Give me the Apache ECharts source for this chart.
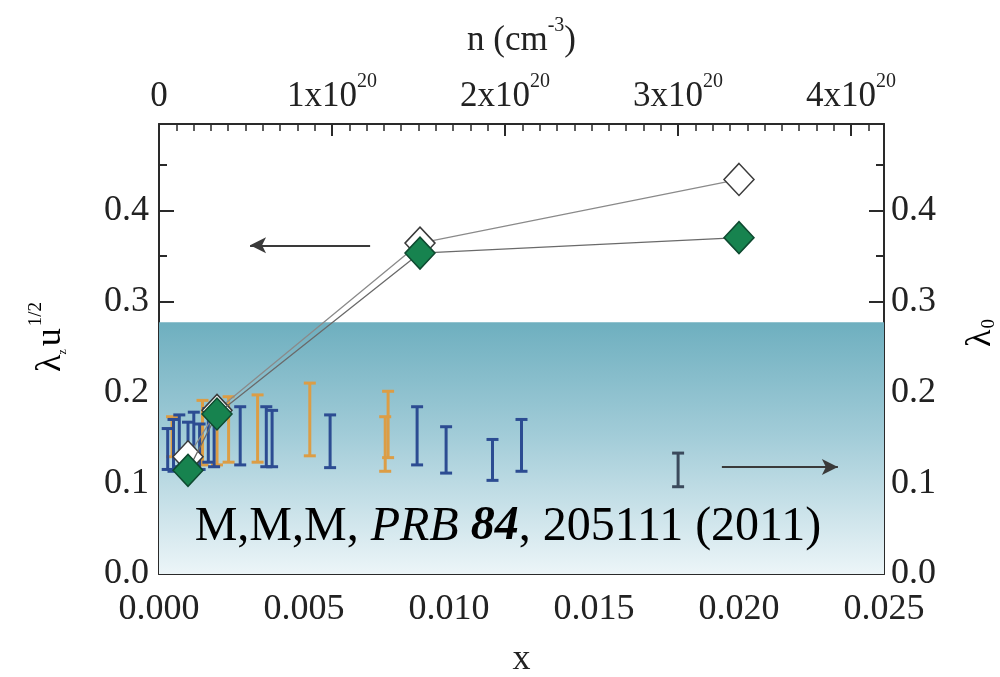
<!DOCTYPE html>
<html><head><meta charset="utf-8">
<script src="https://cdn.jsdelivr.net/npm/echarts@6/dist/echarts.min.js"></script>
<style>html,body{margin:0;padding:0;background:#fff}#c{width:1000px;height:677px}</style>
</head><body><div id="c"></div>
<script>
// ---- data ----
const xTicks = [0, 0.005, 0.010, 0.015, 0.020, 0.025];
const nTicks = [0, 1e20, 2e20, 3e20, 4e20];
// lambda_z u^1/2 (left axis) – diamonds
const diamondX = [0.001, 0.002, 0.009, 0.020];
const filledY = [0.114, 0.176, 0.353, 0.370];
const openY   = [0.129, 0.180, 0.364, 0.434];
// lambda_0 (right axis) – error bars
const blueX    = [0.0003, 0.0005, 0.0007, 0.0010, 0.0012, 0.0014, 0.0017, 0.0019, 0.0028, 0.0037, 0.0039, 0.0059, 0.0089, 0.0099, 0.0115, 0.0125];
const blueLow  = [0.115, 0.113, 0.118, 0.112, 0.120, 0.115, 0.123, 0.118, 0.120, 0.118, 0.118, 0.117, 0.120, 0.111, 0.103, 0.113];
const blueHigh = [0.160, 0.170, 0.175, 0.167, 0.178, 0.165, 0.182, 0.170, 0.184, 0.184, 0.180, 0.175, 0.184, 0.162, 0.148, 0.170];
const orangeX    = [0.00045, 0.0015, 0.0020, 0.0024, 0.0034, 0.0052, 0.0078, 0.0079];
const orangeLow  = [0.129, 0.120, 0.120, 0.123, 0.123, 0.130, 0.113, 0.128];
const orangeHigh = [0.173, 0.191, 0.189, 0.195, 0.197, 0.210, 0.173, 0.201];
const grayX = [0.0179];
const grayLow = [0.096];
const grayHigh = [0.133];
// shaded region (lambda_0 scale) and arrows
const shadeTop = 0.277;
const arrowLeft  = [[0.00728, 0.3615], [0.00314, 0.3615]];
const arrowRight = [[0.01941, 0.1176], [0.02341, 0.1176]];
const nMax = 4.19e20;
const yMax = 0.495;

const FONT = '"Liberation Serif","DejaVu Serif",serif';
const chart = echarts.init(document.getElementById('c'), null, {renderer: 'canvas'});

function errSeries(xs, lo, hi, color, z) {
  return {
    type: 'custom', xAxisIndex: 0, yAxisIndex: 1, z: z, silent: true,
    data: xs.map((x, i) => [x, lo[i], hi[i]]),
    renderItem: function (params, api) {
      const a = api.coord([api.value(0), api.value(1)]);
      const b = api.coord([api.value(0), api.value(2)]);
      const w = 6;
      const st = {stroke: color, lineWidth: 3};
      return {type: 'group', children: [
        {type: 'line', shape: {x1: a[0], y1: a[1], x2: b[0], y2: b[1]}, style: st},
        {type: 'line', shape: {x1: a[0] - w, y1: a[1], x2: a[0] + w, y2: a[1]}, style: st},
        {type: 'line', shape: {x1: b[0] - w, y1: b[1], x2: b[0] + w, y2: b[1]}, style: st}
      ]};
    }
  };
}

const axisLineStyle = {color: '#2a2a2a', width: 2};
const labelStyle = {fontFamily: FONT, fontSize: 36, color: '#222'};

const option = {
  animation: false,
  backgroundColor: '#fff',
  grid: {left: 159, right: 116, top: 124, bottom: 103, containLabel: false, outerBoundsMode: 'none'},
  xAxis: [
    {
      type: 'value', position: 'bottom', min: 0, max: 0.025, interval: 0.005,
      axisLine: {show: true, onZero: false, lineStyle: axisLineStyle},
      axisTick: {show: true, inside: true, length: 13, lineStyle: {color: '#2a2a2a', width: 2}},
      minorTick: {show: true, splitNumber: 5, length: 7, lineStyle: {color: '#2a2a2a', width: 1.5}},
      splitLine: {show: false},
      axisLabel: Object.assign({margin: 18, formatter: v => v.toFixed(3)}, labelStyle),
      name: 'x', nameLocation: 'middle', nameGap: 68,
      nameTextStyle: {fontFamily: FONT, fontSize: 36, color: '#222'}
    },
    {
      type: 'value', position: 'top', min: 0, max: nMax, interval: 1e20,
      axisLine: {show: true, onZero: false, lineStyle: axisLineStyle},
      axisTick: {show: true, inside: true, length: 12, lineStyle: {color: '#2a2a2a', width: 2}},
      minorTick: {show: true, splitNumber: 10, length: 7, lineStyle: {color: '#2a2a2a', width: 1.5}},
      splitLine: {show: false},
      axisLabel: {
        margin: 10, showMaxLabel: false,
        formatter: function (v) {
          if (v === 0) return '{a|0}';
          const idx = nTicks.indexOf(v);
          if (idx < 0) return '';
          return '{a|' + Math.round(v / 1e20) + 'x10}{s|20}';
        },
        rich: {
          a: {fontFamily: FONT, fontSize: 35, color: '#222', verticalAlign: 'bottom', lineHeight: 42},
          s: {fontFamily: FONT, fontSize: 20, color: '#222', verticalAlign: 'bottom', padding: [0, 0, 22, 0]}
        }
      },
      name: '{a|n (cm}{s|-3}{a|)}', nameLocation: 'middle', nameGap: 66,
      nameTextStyle: {
        rich: {
          a: {fontFamily: FONT, fontSize: 35, color: '#222', verticalAlign: 'bottom', lineHeight: 42},
          s: {fontFamily: FONT, fontSize: 20, color: '#222', verticalAlign: 'bottom', padding: [0, 0, 22, 0]}
        }
      }
    }
  ],
  yAxis: [
    {
      type: 'value', position: 'left', min: 0, max: yMax, interval: 0.1,
      axisLine: {show: true, onZero: false, lineStyle: axisLineStyle},
      axisTick: {show: true, inside: true, length: 15, lineStyle: {color: '#2a2a2a', width: 2}},
      minorTick: {show: true, splitNumber: 2, length: 8, lineStyle: {color: '#2a2a2a', width: 2}},
      splitLine: {show: false},
      axisLabel: Object.assign({margin: 10, showMaxLabel: false, formatter: v => (Math.abs(v * 10 - Math.round(v * 10)) < 1e-6 ? v.toFixed(1) : '')}, labelStyle)
    },
    {
      type: 'value', position: 'right', min: 0, max: yMax, interval: 0.1,
      axisLine: {show: true, onZero: false, lineStyle: axisLineStyle},
      axisTick: {show: true, inside: true, length: 15, lineStyle: {color: '#2a2a2a', width: 2}},
      minorTick: {show: true, splitNumber: 2, length: 8, lineStyle: {color: '#2a2a2a', width: 2}},
      splitLine: {show: false},
      axisLabel: Object.assign({margin: 7, showMaxLabel: false, formatter: v => (Math.abs(v * 10 - Math.round(v * 10)) < 1e-6 ? v.toFixed(1) : '')}, labelStyle)
    }
  ],
  series: [
    {
      type: 'line', xAxisIndex: 0, yAxisIndex: 1, data: [], z: 1, silent: true,
      markArea: {
        silent: true,
        itemStyle: {
          color: new echarts.graphic.LinearGradient(0, 0, 0, 1, [
            {offset: 0, color: '#6eafbf'},
            {offset: 0.45, color: '#a2ccd8'},
            {offset: 1, color: '#ecf5f8'}
          ])
        },
        data: [[{coord: [xTicks[0], shadeTop]}, {coord: [xTicks[xTicks.length - 1], 0]}]]
      },
      markLine: {
        silent: true, symbol: ['none', 'arrow'], symbolSize: [12, 16],
        label: {show: false},
        lineStyle: {color: '#3a3a3a', width: 1.8, type: 'solid'},
        data: [
          [{coord: arrowLeft[0]}, {coord: arrowLeft[1]}],
          [{coord: arrowRight[0]}, {coord: arrowRight[1]}]
        ]
      }
    },
    errSeries(orangeX, orangeLow, orangeHigh, '#dc9d45', 3),
    errSeries(blueX, blueLow, blueHigh, '#2c4c92', 4),
    errSeries(grayX, grayLow, grayHigh, '#3b4a5c', 4),
    {
      type: 'line', xAxisIndex: 0, yAxisIndex: 0, z: 5,
      data: diamondX.map((x, i) => [x, openY[i]]),
      symbol: 'diamond', symbolSize: [30, 32], showSymbol: true,
      lineStyle: {color: '#8a8a8a', width: 1.3},
      itemStyle: {color: '#ffffff', borderColor: '#3a3a3a', borderWidth: 1.5}
    },
    {
      type: 'line', xAxisIndex: 0, yAxisIndex: 0, z: 6,
      data: diamondX.map((x, i) => [x, filledY[i]]),
      symbol: 'diamond', symbolSize: [30, 32], showSymbol: true,
      lineStyle: {color: '#6a6a6a', width: 1.3},
      itemStyle: {color: '#17834f', borderColor: '#0e4a30', borderWidth: 1.5}
    }
  ],
  graphic: [
    {
      type: 'text', x: 508, y: 527, z: 100,
      style: {
        text: '{n|M,M,M, }{i|PRB }{b|84}{n|, 205111 (2011)}',
        align: 'center', verticalAlign: 'middle',
        rich: {
          n: {fontFamily: FONT, fontSize: 48, color: '#111'},
          i: {fontFamily: FONT, fontSize: 48, fontStyle: 'italic', color: '#111'},
          b: {fontFamily: FONT, fontSize: 48, fontStyle: 'italic', fontWeight: 'bold', color: '#111'}
        }
      }
    },
    {
      type: 'text', x: 48, y: 337, rotation: Math.PI / 2, z: 100,
      style: {
        text: '{a|λ}{sub|z}{a|u}{sup|1/2}',
        align: 'center', verticalAlign: 'middle',
        rich: {
          a: {fontFamily: FONT, fontSize: 36, color: '#222', verticalAlign: 'bottom', lineHeight: 42},
          sub: {fontFamily: FONT, fontSize: 12, color: '#222', verticalAlign: 'bottom', padding: [0, 3, 0, 0]},
          sup: {fontFamily: FONT, fontSize: 19, color: '#222', verticalAlign: 'bottom', padding: [0, 0, 23, 2]}
        }
      }
    },
    {
      type: 'text', x: 978, y: 333, rotation: Math.PI / 2, z: 100,
      style: {
        text: '{a|λ}{sub|0}',
        align: 'center', verticalAlign: 'middle',
        rich: {
          a: {fontFamily: FONT, fontSize: 36, color: '#222', verticalAlign: 'bottom', lineHeight: 42},
          sub: {fontFamily: FONT, fontSize: 19, color: '#222', verticalAlign: 'bottom', padding: [0, 0, 0, 1]}
        }
      }
    }
  ]
};
chart.setOption(option);
</script>
</body></html>
